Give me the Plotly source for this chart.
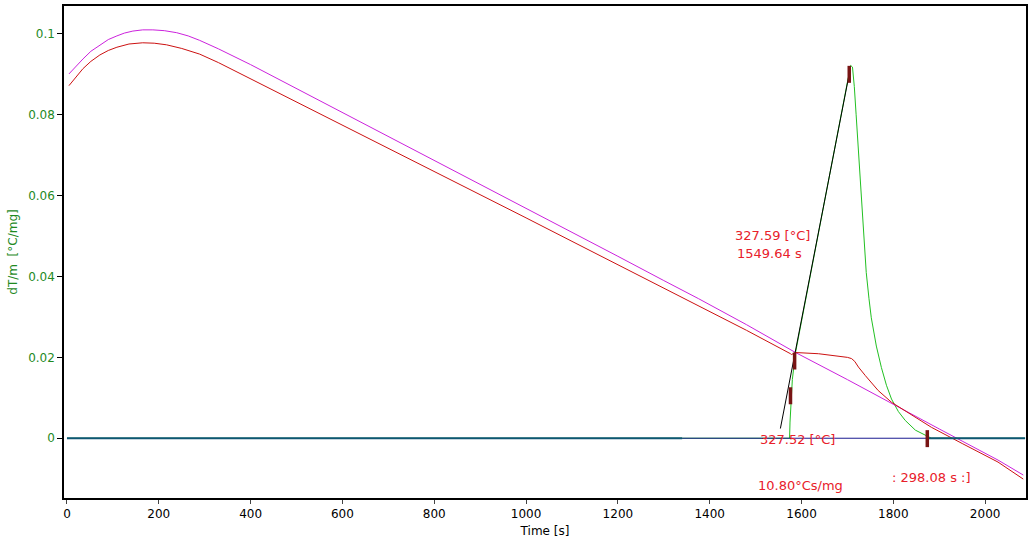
import plotly.graph_objects as go

# ---- data ----
magenta_t = [4.3, 20, 34.8, 52, 71.7, 90, 108.7, 125, 143.5, 165, 187, 212, 239, 264, 289, 330, 400, 500, 600, 700, 800, 900, 1000, 1100, 1200, 1300, 1376, 1480, 1587, 1700, 1796, 1900, 2028, 2083]
magenta_v = [0.0901, 0.0921, 0.0938, 0.0957, 0.0973, 0.0986, 0.0995, 0.1002, 0.1007, 0.1010, 0.1010, 0.1008, 0.1003, 0.0995, 0.0984, 0.0963, 0.0924, 0.0865, 0.0806, 0.0747, 0.0688, 0.0629, 0.0570, 0.0510, 0.0450, 0.0390, 0.0345, 0.0281, 0.0212, 0.0145, 0.0086, 0.0023, -0.0054, -0.0091]

red_t = [4.3, 20, 34.8, 52, 71.7, 90, 108.7, 135, 165, 190, 217, 250, 289, 330, 400, 500, 600, 700, 800, 900, 1000, 1100, 1200, 1300, 1376, 1480, 1576, 1578, 1587, 1637, 1700, 1709, 1716, 1724, 1739, 1767, 1796, 1840, 1883, 1950, 2028, 2083]
red_v = [0.0872, 0.0894, 0.0914, 0.0932, 0.0948, 0.0959, 0.0967, 0.0975, 0.0978, 0.0977, 0.0973, 0.0964, 0.0950, 0.0929, 0.0889, 0.0832, 0.0775, 0.0718, 0.0661, 0.0603, 0.0545, 0.0487, 0.0429, 0.0371, 0.0328, 0.0267, 0.0209, 0.0207, 0.0212, 0.0209, 0.0200, 0.0197, 0.0190, 0.0176, 0.0155, 0.0118, 0.0089, 0.0057, 0.0027, -0.0013, -0.0059, -0.0101]

green_t = [0, 1574, 1575, 1577, 1580, 1587, 1648, 1707, 1711, 1715, 1719, 1724, 1730, 1736, 1741, 1747, 1752, 1763, 1774, 1785, 1796, 1811, 1826, 1848, 1870, 1883, 2087]
green_v = [0, 0, 0.0040, 0.0100, 0.0145, 0.0212, 0.0569, 0.0922, 0.0918, 0.0870, 0.0800, 0.0710, 0.0600, 0.0490, 0.0410, 0.0345, 0.0298, 0.0228, 0.0175, 0.0131, 0.0097, 0.0066, 0.0044, 0.0020, 0.0007, 0, 0]

tangent_t = [1554, 1707]
tangent_v = [0.0024, 0.0919]

baseline_t = [0, 1340, 1874, 2087]
baseline_v = [0, 0, 0, 0]

marker_t = [1704, 1585, 1576, 1874]
marker_lo = [0.0879, 0.0170, 0.0084, -0.0022]
marker_hi = [0.0921, 0.0212, 0.0126, 0.0020]

labels = ["327.59 [°C]", "1549.64 s", "327.52 [°C]", "10.80°Cs/mg", ": 298.08 s :]"]
label_t = [1537, 1530, 1592, 1598, 1883]
label_v = [0.0502, 0.0456, -0.0002, -0.0116, -0.0096]

x_ticks = list(range(0, 2001, 200))
y_ticks = [0, 0.02, 0.04, 0.06, 0.08, 0.1]
y_tick_text = ["0", "0.02", "0.04", "0.06", "0.08", "0.1"]

FONT = "DejaVu Sans"
GREEN = "#1f8a1f"
RED_TXT = "#e8202a"

fig = go.Figure()

fig.add_trace(go.Scatter(x=green_t, y=green_v, mode="lines",
                         line=dict(color="#22c022", width=1), hoverinfo="skip"))
fig.add_trace(go.Scatter(x=magenta_t, y=magenta_v, mode="lines",
                         line=dict(color="#cc22dd", width=1), hoverinfo="skip"))
fig.add_trace(go.Scatter(x=red_t, y=red_v, mode="lines",
                         line=dict(color="#cc1111", width=1), hoverinfo="skip"))
# baseline: thick teal outer parts, thin navy integration segment
fig.add_trace(go.Scatter(x=baseline_t[:2], y=baseline_v[:2], mode="lines",
                         line=dict(color="#0e5673", width=2), hoverinfo="skip"))
fig.add_trace(go.Scatter(x=baseline_t[1:3], y=baseline_v[1:3], mode="lines",
                         line=dict(color="#1a1a90", width=1), hoverinfo="skip"))
fig.add_trace(go.Scatter(x=baseline_t[2:], y=baseline_v[2:], mode="lines",
                         line=dict(color="#0e5673", width=2), hoverinfo="skip"))
fig.add_trace(go.Scatter(x=tangent_t, y=tangent_v, mode="lines",
                         line=dict(color="black", width=1), hoverinfo="skip"))
for t, lo, hi in zip(marker_t, marker_lo, marker_hi):
    fig.add_trace(go.Scatter(x=[t, t], y=[lo, hi], mode="lines",
                             line=dict(color="#781414", width=3.5), hoverinfo="skip"))

for txt, t, v in zip(labels, label_t, label_v):
    fig.add_annotation(x=t, y=v, text=txt, showarrow=False, xanchor="center", yanchor="middle",
                       font=dict(family=FONT, size=13, color=RED_TXT))

fig.update_layout(
    width=1032, height=544,
    margin=dict(l=64, r=4, t=4, b=46),
    paper_bgcolor="white", plot_bgcolor="white",
    showlegend=False,
    font=dict(family=FONT, size=12, color="black"),
)
fig.update_xaxes(range=[-6.5, 2089], tickvals=x_ticks, ticks="outside", ticklen=4,
                 showgrid=False, zeroline=False, showline=True, mirror=True,
                 linecolor="black", linewidth=1.5,
                 tickfont=dict(family=FONT, size=12, color="black"),
                 title=dict(text="Time [s]", font=dict(family=FONT, size=12, color="black"), standoff=6))
fig.update_yaxes(range=[-0.01478, 0.1069], tickvals=y_ticks, ticktext=y_tick_text,
                 ticks="outside", ticklen=5, tickcolor="black",
                 showgrid=False, zeroline=False, showline=True, mirror=True,
                 linecolor="black", linewidth=1.5,
                 tickfont=dict(family=FONT, size=12, color=GREEN),
                 title=dict(text="dT/m \u00a0[°C/mg]", font=dict(family=FONT, size=12, color=GREEN), standoff=8))

fig.write_html("out.html", config={"displayModeBar": False},
               post_script="document.body.style.margin='0';document.body.style.padding='0';")
